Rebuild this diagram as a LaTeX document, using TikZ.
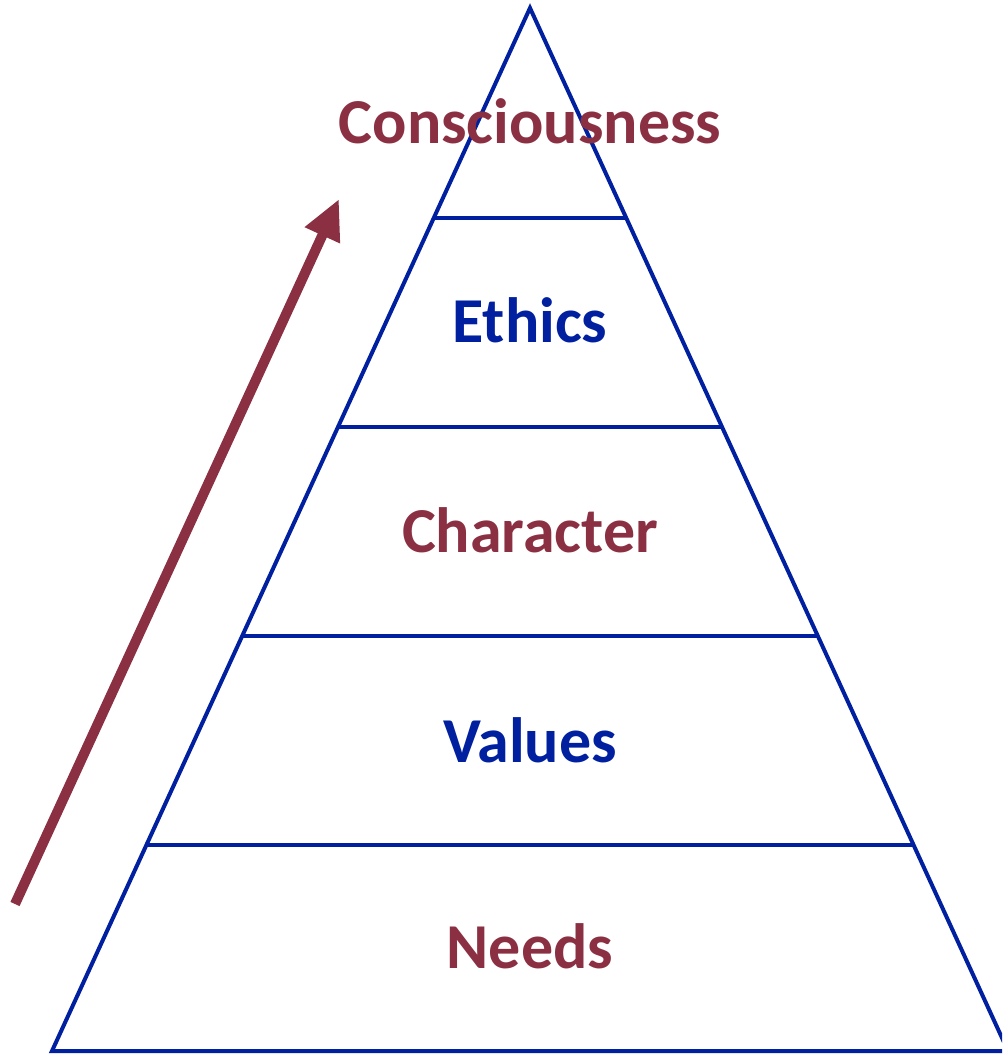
\documentclass[tikz,border=0pt]{standalone}
\usepackage{fontspec}
\setmainfont{Carlito}
\usetikzlibrary{arrows.meta,calc}
\definecolor{maroon}{RGB}{139,48,66}
\definecolor{pblue}{RGB}{0,32,160}
\tikzset{
  edge/.style={draw=pblue,line width=4pt,line join=miter},
  lbl/.style={font=\fontsize{64}{76}\selectfont\bfseries,anchor=base,inner sep=0pt},
  rise/.style={draw=maroon,line width=10pt,-{Triangle[length=40pt,width=36pt]}}
}
\begin{document}
\begin{tikzpicture}[x=1pt,y=-1pt]
\useasboundingbox (0,0) rectangle (1002,1054);
\begin{scope}
\clip (0,0) rectangle (1002,1054);
\coordinate (apex) at (530,8);
\coordinate (bl) at (52,1051);
\coordinate (br) at (1008,1051);
\draw[edge] (bl) -- (apex) -- (br) -- cycle;
\foreach \t [count=\i] in {0.2013,0.4017,0.6021,0.8025}{
  \coordinate (l\i) at ($(apex)!\t!(bl)$);
  \coordinate (r\i) at ($(apex)!\t!(br)$);
  \draw[edge] (l\i) -- (r\i);
}
\end{scope}
\coordinate (tail) at (15,904);
\coordinate (tip) at (339,199);
\draw[rise] (tail) -- (tip);
\node[lbl,text=maroon] (consc) at (530,143) {Consciousness};
\node[lbl,text=pblue] (ethics) at (530,342) {Ethics};
\node[lbl,text=maroon] (charac) at (530,552) {Character};
\node[lbl,text=pblue] (values) at (530,762) {Values};
\node[lbl,text=maroon] (needs) at (530,968) {Needs};
\end{tikzpicture}
\end{document}
